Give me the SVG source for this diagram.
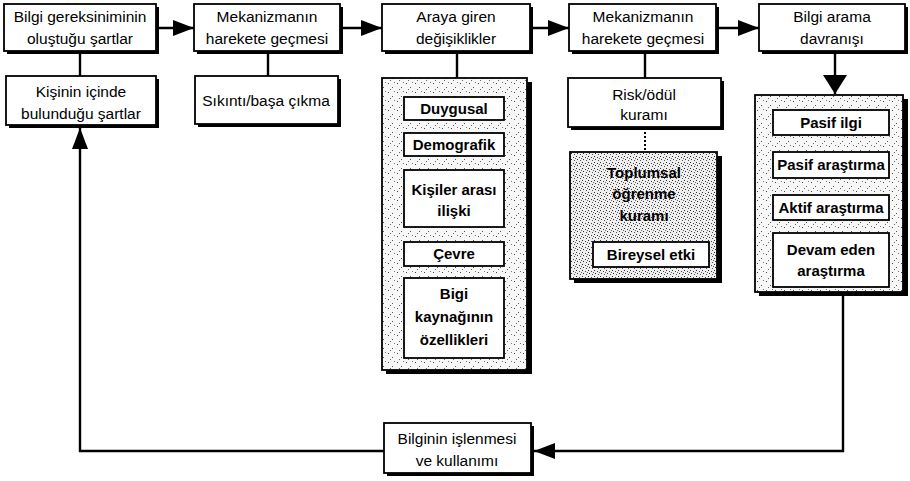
<svg xmlns="http://www.w3.org/2000/svg" width="910" height="481" viewBox="0 0 910 481">
<defs>
<style>
.t{font-family:"Liberation Sans",Arial,Helvetica,sans-serif;font-size:15.5px;text-anchor:middle;fill:#000}
.b{font-weight:bold;font-size:15px}
.box{fill:#fff;stroke:#000;stroke-width:1.8}
.sh{fill:#000}
.panel{stroke:#000;stroke-width:1.8}
.conn{stroke:#000;stroke-width:2.4;fill:none}
.dotted{stroke:#000;stroke-width:2;stroke-dasharray:2 2;fill:none}
</style>
<pattern id="stip" width="9" height="9" patternUnits="userSpaceOnUse">
<rect width="9" height="9" fill="#f7f7f7"/>
<rect x="1" y="2" width="1" height="1" fill="#444"/>
<rect x="5" y="6" width="1" height="1" fill="#555"/>
<rect x="7" y="1" width="1" height="1" fill="#777"/>
<rect x="3" y="8" width="1" height="1" fill="#666"/>
</pattern>
<pattern id="dense" width="6" height="6" patternUnits="userSpaceOnUse">
<rect width="6" height="6" fill="#eeeeee"/>
<rect x="0" y="0" width="1" height="1" fill="#333"/>
<rect x="3" y="1" width="1" height="1" fill="#444"/>
<rect x="1" y="3" width="1" height="1" fill="#333"/>
<rect x="4" y="4" width="1" height="1" fill="#555"/>
<rect x="5" y="2" width="1" height="1" fill="#666"/>
</pattern>
<marker id="ah" markerUnits="userSpaceOnUse" markerWidth="21" markerHeight="16" refX="21" refY="8" orient="auto">
<path d="M0,0 L21,8 L0,16 z" fill="#000"/>
</marker>
<marker id="ahw" markerUnits="userSpaceOnUse" markerWidth="19" markerHeight="24" refX="19" refY="12" orient="auto">
<path d="M0,0 L19,12 L0,24 z" fill="#000"/>
</marker>
</defs>
<rect width="910" height="481" fill="#fff"/>

<g id="connectors">
<line class="conn" x1="157" y1="28" x2="194" y2="28" marker-end="url(#ah)"/>
<line class="conn" x1="341" y1="28" x2="382" y2="28" marker-end="url(#ah)"/>
<line class="conn" x1="531" y1="28" x2="569" y2="28" marker-end="url(#ah)"/>
<line class="conn" x1="718" y1="28" x2="759" y2="28" marker-end="url(#ah)"/>
<line class="conn" x1="80" y1="52" x2="80" y2="76"/>
<line class="conn" x1="268" y1="52" x2="268" y2="76"/>
<line class="conn" x1="457" y1="52" x2="457" y2="78"/>
<line class="conn" x1="645" y1="52" x2="645" y2="78"/>
<line class="dotted" x1="645" y1="128" x2="645" y2="152"/>
<line class="conn" x1="835" y1="52" x2="835" y2="94" marker-end="url(#ahw)"/>
<polyline class="conn" points="843,294 843,451 534,451" marker-end="url(#ah)"/>
<polyline class="conn" points="384,451 80,451 80,128" marker-end="url(#ah)"/>
</g>

<g id="n1">
<rect class="sh" x="7" y="7" width="152" height="47"/>
<rect class="box" x="4" y="4" width="152" height="47"/>
<text class="t" x="80" y="22">Bilgi gereksiniminin</text>
<text class="t" x="80" y="44">oluştuğu şartlar</text>
</g>
<g id="n2">
<rect class="sh" x="197" y="7" width="146" height="47"/>
<rect class="box" x="194" y="4" width="146" height="47"/>
<text class="t" x="267" y="22">Mekanizmanın</text>
<text class="t" x="267" y="44">harekete geçmesi</text>
</g>
<g id="n3">
<rect class="sh" x="385" y="7" width="148" height="47"/>
<rect class="box" x="382" y="4" width="148" height="47"/>
<text class="t" x="456" y="22">Araya giren</text>
<text class="t" x="456" y="44">değişiklikler</text>
</g>
<g id="n4">
<rect class="sh" x="572" y="7" width="147" height="47"/>
<rect class="box" x="569" y="4" width="147" height="47"/>
<text class="t" x="643" y="22">Mekanizmanın</text>
<text class="t" x="643" y="44">harekete geçmesi</text>
</g>
<g id="n5">
<rect class="sh" x="762" y="7" width="146" height="47"/>
<rect class="box" x="759" y="4" width="146" height="47"/>
<text class="t" x="832" y="22">Bilgi arama</text>
<text class="t" x="832" y="44">davranışı</text>
</g>

<g id="n6">
<rect class="sh" x="9" y="79" width="150" height="49"/>
<rect class="box" x="6" y="76" width="150" height="49"/>
<text class="t" x="81" y="97">Kişinin içinde</text>
<text class="t" x="81" y="119">bulunduğu şartlar</text>
</g>
<g id="n7">
<rect class="sh" x="198" y="79" width="143" height="48"/>
<rect class="box" x="195" y="76" width="143" height="48"/>
<text class="t" x="266" y="106">Sıkıntı/başa çıkma</text>
</g>

<g id="n8">
<rect class="sh" x="386" y="82" width="146" height="292"/>
<rect class="panel" x="382" y="78" width="145" height="292" fill="url(#stip)"/>
<g id="n8a"><rect class="box" x="404" y="97" width="100" height="23"/><text class="t b" x="454" y="114">Duygusal</text></g>
<g id="n8b"><rect class="box" x="404" y="133" width="100" height="23"/><text class="t b" x="454" y="150">Demografik</text></g>
<g id="n8c"><rect class="box" x="404" y="170" width="100" height="57"/><text class="t b" x="454" y="195">Kişiler arası</text><text class="t b" x="454" y="216">ilişki</text></g>
<g id="n8d"><rect class="box" x="404" y="242" width="100" height="24"/><text class="t b" x="454" y="259">Çevre</text></g>
<g id="n8e"><rect class="box" x="404" y="278" width="100" height="80"/><text class="t b" x="454" y="299">Bigi</text><text class="t b" x="454" y="322">kaynağının</text><text class="t b" x="454" y="345">özellikleri</text></g>
</g>

<g id="n9">
<rect class="sh" x="571" y="81" width="153" height="49"/>
<rect class="box" x="568" y="78" width="153" height="49"/>
<text class="t" x="644" y="100">Risk/ödül</text>
<text class="t" x="644" y="120">kuramı</text>
</g>

<g id="n10">
<rect class="sh" x="574" y="156" width="148" height="127"/>
<rect class="panel" x="570" y="152" width="147" height="127" fill="url(#dense)"/>
<text class="t b" x="644" y="178">Toplumsal</text>
<text class="t b" x="644" y="199">öğrenme</text>
<text class="t b" x="644" y="221">kuramı</text>
<g id="n10a"><rect class="box" x="593" y="242" width="116" height="25"/><text class="t b" x="651" y="260">Bireysel etki</text></g>
</g>

<g id="n11">
<rect class="sh" x="759" y="99" width="149" height="197"/>
<rect class="panel" x="755" y="95" width="148" height="197" fill="url(#stip)"/>
<g id="n11a"><rect class="box" x="773" y="110" width="116" height="25"/><text class="t b" x="831" y="128">Pasif ilgi</text></g>
<g id="n11b"><rect class="box" x="773" y="152" width="116" height="26"/><text class="t b" x="831" y="170">Pasif araştırma</text></g>
<g id="n11c"><rect class="box" x="773" y="195" width="116" height="25"/><text class="t b" x="831" y="213">Aktif araştırma</text></g>
<g id="n11d"><rect class="box" x="773" y="233" width="116" height="54"/><text class="t b" x="831" y="255">Devam eden</text><text class="t b" x="831" y="276">araştırma</text></g>
</g>

<g id="n12">
<rect class="sh" x="387" y="426" width="147" height="50"/>
<rect class="box" x="384" y="423" width="147" height="50"/>
<text class="t" x="457" y="444">Bilginin işlenmesi</text>
<text class="t" x="457" y="466">ve kullanımı</text>
</g>
</svg>
